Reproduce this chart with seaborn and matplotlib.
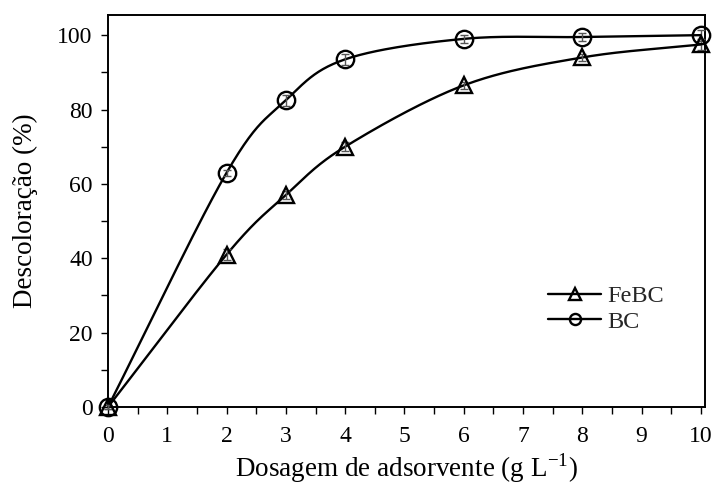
import numpy as np
import pandas as pd
import matplotlib
matplotlib.use("Agg")
import matplotlib.pyplot as plt
import seaborn as sns
from matplotlib.lines import Line2D

# Data
dosagem = [0, 2, 3, 4, 6, 8, 10]
febc = [0, 41, 57, 70, 86.5, 94, 97.5]
bc = [0, 63, 82.5, 93.5, 99, 99.5, 100]
febc_err = [0.5, 1.5, 1.2, 1.2, 1.0, 1.0, 1.5]
bc_err = [0.5, 0.8, 1.5, 1.5, 1.0, 1.0, 1.5]
series_names = ["FeBC", "BC"]
xticks = list(range(0, 11))
yticks = [0, 20, 40, 60, 80, 100]


def catmull_rom(xs, ys, n=40):
    p = np.column_stack([xs, ys]).astype(float)
    p = np.vstack([p[0] - (p[1] - p[0]), p, p[-1] + (p[-1] - p[-2])])
    out = []
    for i in range(1, len(p) - 2):
        p0, p1, p2, p3 = p[i - 1], p[i], p[i + 1], p[i + 2]
        t = np.linspace(0, 1, n, endpoint=(i == len(p) - 3))[:, None]
        seg = 0.5 * ((2 * p1) + (-p0 + p2) * t + (2 * p0 - 5 * p1 + 4 * p2 - p3) * t ** 2
                     + (-p0 + 3 * p1 - 3 * p2 + p3) * t ** 3)
        out.append(seg)
    out = np.vstack(out)
    return out[:, 0], out[:, 1]


sns.set_theme(style="white")
plt.rcParams["font.family"] = ["Liberation Serif", "DejaVu Serif"]
plt.rcParams["mathtext.fontset"] = "custom"
plt.rcParams["mathtext.rm"] = "Liberation Serif"

fig = plt.figure(figsize=(7.13, 4.86), dpi=100)
ax = fig.add_axes([0.1515, 0.1626, 0.8373, 0.8064])

rows = []
for name, vals in zip(series_names, [febc, bc]):
    sx, sy = catmull_rom(dosagem, vals)
    for a, b in zip(sx, sy):
        rows.append({"x": a, "y": b, "serie": name})
smooth = pd.DataFrame(rows)

sns.lineplot(data=smooth, x="x", y="y", hue="serie", sort=False, estimator=None,
             palette={"FeBC": "black", "BC": "black"}, linewidth=1.7, legend=False, ax=ax)

marker_map = {"FeBC": "^", "BC": "o"}
for name, vals, err in zip(series_names, [febc, bc], [febc_err, bc_err]):
    ax.errorbar(dosagem, vals, yerr=err, fmt="none", ecolor="#555555", elinewidth=1.0,
                capsize=3, capthick=1.0, zorder=3, clip_on=False)
    ax.plot(dosagem, vals, linestyle="none", marker=marker_map[name],
            markersize=12.5 if name == "BC" else 11.5,
            markerfacecolor="none", markeredgecolor="black", markeredgewidth=1.7, zorder=4, clip_on=False)

ax.set_xlim(0, 10.07)
ax.set_ylim(0, 105.4)
ax.set_xticks(xticks)
ax.set_yticks(yticks)
ax.set_xticks(np.arange(0.5, 10, 1), minor=True)
ax.set_yticks(np.arange(10, 101, 20), minor=True)
ax.tick_params(axis="both", which="both", direction="out", color="black", width=1.0,
               bottom=True, left=True)
ax.tick_params(axis="both", which="major", length=5, labelsize=17, labelcolor="black")
ax.tick_params(axis="x", which="major", pad=9)
ax.tick_params(axis="y", which="major", pad=6)
ax.tick_params(axis="both", which="minor", length=5)
for s in ax.spines.values():
    s.set_color("black")
    s.set_linewidth(1.4)

ax.set_xlabel(r"Dosagem de adsorvente (g L$^{\mathrm{-1}}$)", fontsize=19.5, color="black", labelpad=3)
ax.set_ylabel("Descoloração (%)", fontsize=19.5, color="black", labelpad=14)

handles = [Line2D([], [], color="black", linewidth=1.7, marker=marker_map[n], markersize=8,
                  markerfacecolor="none", markeredgecolor="black", markeredgewidth=1.7)
           for n in series_names]
ax.legend(handles, series_names, loc="lower right", bbox_to_anchor=(0.968, 0.133), frameon=False,
          fontsize=17.5, handlelength=2.2, handletextpad=0.25, labelspacing=0.15)

fig.savefig("out.png", dpi=100)
